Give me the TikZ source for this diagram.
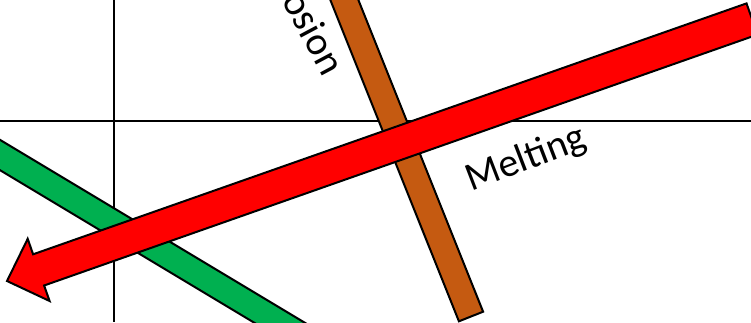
\documentclass[tikz,border=0pt]{standalone}
\usepackage{fontspec}
\setmainfont{Carlito}
\definecolor{barred}{RGB}{255,0,0}
\definecolor{bargreen}{RGB}{0,176,80}
\definecolor{barbrown}{RGB}{197,90,17}
\tikzset{
  barshape/.style={draw=black,line width=2pt,line join=miter},
  axisline/.style={line width=1.8pt,draw=black},
  lbl/.style={font=\fontsize{40}{48}\selectfont,inner sep=0pt,text=black}
}
\begin{document}
\begin{tikzpicture}[x=1pt,y=-1pt]
\useasboundingbox (0,0) rectangle (751,322);
\clip (0,0) rectangle (751,322);
% axes
\coordinate (xl) at (0,121); \coordinate (xr) at (751,121);
\coordinate (yt) at (114,0); \coordinate (yb) at (114,322);
\draw[axisline] (xl) -- (xr);
\draw[axisline] (yt) -- (yb);
% green bar
\coordinate (g1) at (-43.3,113.85);
\coordinate (g2) at (426.7,395.85);
\coordinate (g3) at (413.3,418.15);
\coordinate (g4) at (-56.7,136.15);
\filldraw[barshape,fill=bargreen] (g1) -- (g2) -- (g3) -- (g4) -- cycle;
% brown bar
\coordinate (b1) at (458.9,321.3);
\coordinate (b2) at (483.1,311.7);
\coordinate (b3) at (334.5,-59.7);
\coordinate (b4) at (310.3,-50.1);
\filldraw[barshape,fill=barbrown] (b1) -- (b2) -- (b3) -- (b4) -- cycle;
% red arrow
\coordinate (r1) at (746.5,3.4);
\coordinate (r2) at (757.5,34.6);
\coordinate (r3) at (44.1,285.5);
\coordinate (r4) at (49.6,301.0);
\coordinate (rtip) at (7,281);
\coordinate (r5) at (27.7,238.8);
\coordinate (r6) at (33.1,254.3);
\filldraw[barshape,fill=barred] (r1) -- (r2) -- (r3) -- (r4) -- (rtip) -- (r5) -- (r6) -- cycle;
% labels
\node[lbl,anchor=base west,rotate=21] (melt) at (471,192) {Melting};
\node[lbl,anchor=base east,rotate=-62] (osion) at (323,78) {osion};
\end{tikzpicture}
\end{document}
